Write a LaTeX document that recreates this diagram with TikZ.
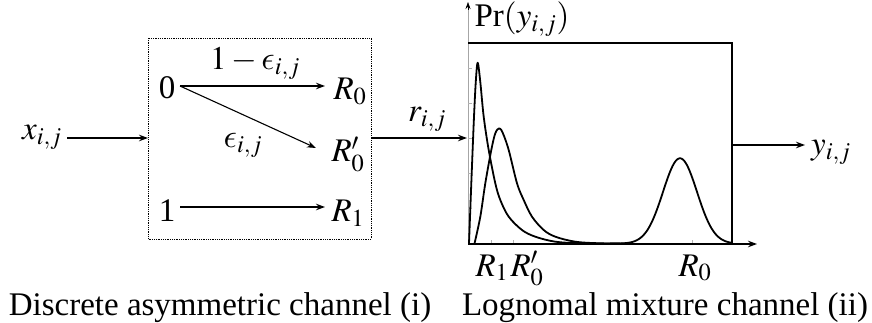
\documentclass[tikz,border=0pt]{standalone}
\usepackage{mathptmx}
\usepackage{fontspec}
\setmainfont{Liberation Serif}
\DeclareFontFamily{OML}{cmmx}{\skewchar\font127 }
\DeclareFontShape{OML}{cmmx}{m}{it}{<-> cmmi10}{}
\DeclareSymbolFont{cmlet}{OML}{cmmx}{m}{it}
\DeclareMathSymbol{\lunateps}{\mathord}{cmlet}{"0F}
\usetikzlibrary{arrows.meta}
\tikzset{
  lbl/.style={inner sep=0pt, anchor=base, font=\fontsize{33}{38}\selectfont},
  arr/.style={-{Stealth[length=9pt,width=6.5pt]}, line width=1.1pt},
  curve/.style={line width=1.8pt, line join=round},
  frame/.style={line width=1.1pt},
  tick/.style={gray!60, line width=0.5pt}
}
\begin{document}
\begin{tikzpicture}[x=1pt,y=-1pt]
\useasboundingbox (0,0) rectangle (872,323);
% ---- discrete channel (i)
\draw[densely dotted, line width=0.8pt] (148,38) rectangle (371,239);
\node[lbl] (x) at (42,140) {$x_{i,j}$};
\coordinate (xout) at (67,138);
\coordinate (boxin) at (148,138);
\draw[arr] (xout) -- (boxin);
\node[lbl] (zero) at (167,99) {0};
\node[lbl] (one) at (167,222) {1};
\node[lbl] (R0) at (350,100) {$R_0$};
\node[lbl] (R0p) at (348,162) {$R_0'$};
\node[lbl] (R1) at (348,222) {$R_1$};
\coordinate (s0) at (180,86);
\coordinate (t0) at (325,86);
\coordinate (t0p) at (316,148);
\coordinate (s1) at (180,207);
\coordinate (t1) at (325,207);
\draw[arr] (s0) -- (t0);
\draw[arr] (s0) -- (t0p);
\draw[arr] (s1) -- (t1);
\node[lbl] (p1) at (255,70) {$1-\lunateps_{i,j}$};
\node[lbl] (p2) at (243,148) {$\lunateps_{i,j}$};
% ---- link
\coordinate (boxout) at (371,138);
\coordinate (plotin) at (467,138);
\draw[arr] (boxout) -- (plotin);
\node[lbl] (r) at (427,122) {$r_{i,j}$};
% ---- lognormal mixture (ii)
\draw[gray!70, line width=0.6pt] (468,244) -- (468,8);
\draw[-{Stealth[length=7pt,width=5pt]}, line width=0.6pt] (468,10) -- (468,2);
\node[lbl] (pr) at (522,27) {Pr$(y_{i,j})$};
\foreach \yy in {68,103,138,173,208} \draw[tick] (468,\yy) -- (472,\yy);
\foreach \xx in {491,513,692} \draw[tick] (\xx,244) -- (\xx,240);
\draw[frame] (468,43) -- (732,43) -- (732,244);
\draw[arr] (468,244) -- (757,244);
\coordinate (plotout) at (732,145);
\coordinate (yend) at (805,145);
\node[lbl] (y) at (831,155) {$y_{i,j}$};
\draw[arr] (plotout) -- (yend);
% curve A
\draw[curve] plot[smooth, tension=0.55] coordinates {
  (469,243.5) (471.3,183.3) (474,116.7) (475.9,80) (477.7,62.7) (480.3,82)
  (483.7,116.7) (488.7,150) (495.3,183.3) (500.3,200) (508.7,216.7)
  (522,230) (535.3,236.7) (555.3,241.7) (580,243.2) (620,243.6)};
% curve B
\draw[curve] plot[smooth, tension=0.55] coordinates {
  (474.5,243.6) (480.3,216.7) (485.3,183.3) (491.3,150) (495.3,133.3)
  (499.3,128.3) (502.9,133.3) (508.7,150) (517,183.3) (523.7,200)
  (532,216.7) (543.7,230) (555.3,236.7) (575.3,241.7) (600,243.3) (630,243.6)};
% curve C: gaussian
\draw[curve] plot[domain=610:732, samples=120, smooth]
  (\x, {243.6-85.3*exp(-((\x-680)^2)/578)});
\node[lbl] (lR1) at (492,276) {$R_1$};
\node[lbl] (lR0p) at (527,276) {$R_0'$};
\node[lbl] (lR0) at (695,276) {$R_0$};
% ---- captions
\node[lbl] (c1) at (220,315) {Discrete asymmetric channel (i)};
\node[lbl] (c2) at (665,315) {Lognomal mixture channel (ii)};
\end{tikzpicture}
\end{document}
